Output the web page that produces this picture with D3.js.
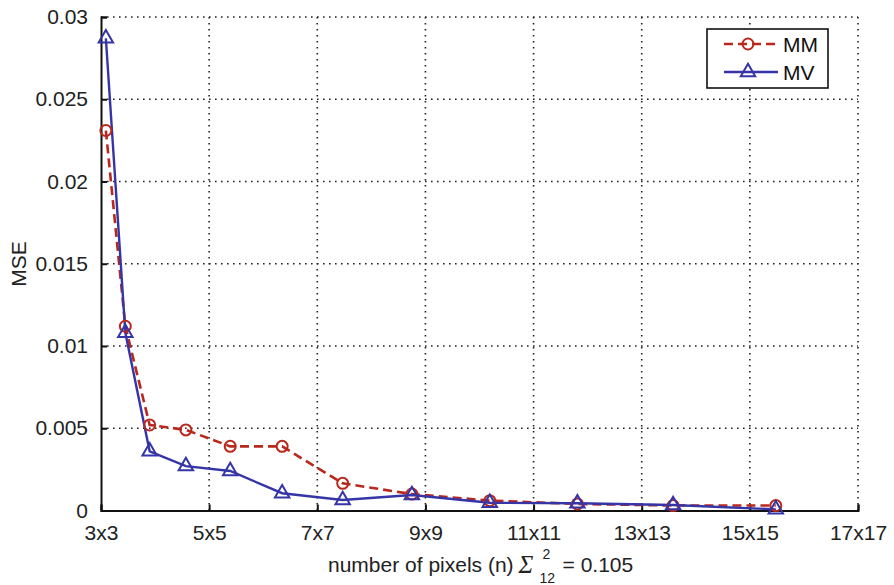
<!DOCTYPE html>
<html>
<head>
<meta charset="utf-8">
<script src="https://cdn.jsdelivr.net/npm/d3@7"></script>
<style>
  body { margin: 0; background: #fff; }
  text { font-family: "Liberation Sans", Arial, sans-serif; }
</style>
</head>
<body>
<svg id="chart" width="894" height="585"></svg>
<script>
// window sizes (n) where each point was measured, in tick units
const windowSizes = [3.09, 3.45, 3.9, 4.57, 5.39, 6.35, 7.47, 8.75, 10.19, 11.81, 13.58, 15.48];
const mmValues = [0.0231, 0.0112, 0.0052, 0.0049, 0.0039, 0.0039, 0.00165, 0.001, 0.0006, 0.0004, 0.0003, 0.0003];
const mvValues = [0.0287, 0.0108, 0.0036, 0.0027, 0.0024, 0.00105, 0.00064, 0.00094, 0.00047, 0.00044, 0.00033, 0.00007];
const xTicks = [3, 5, 7, 9, 11, 13, 15, 17];
const xTickLabels = ['3x3', '5x5', '7x7', '9x9', '11x11', '13x13', '15x15', '17x17'];
const yTicks = [0, 0.005, 0.01, 0.015, 0.02, 0.025, 0.03];

const margin = { left: 101, right: 36, top: 17, bottom: 74.5 };
const width = 894 - margin.left - margin.right;
const height = 585 - margin.top - margin.bottom;
const fontSize = '21px';

const svg = d3.select('#chart');
const g = svg.append('g').attr('transform', `translate(${margin.left},${margin.top})`);

const x = d3.scaleLinear().domain([3, 17]).range([0, width]);
const y = d3.scaleLinear().domain([0, 0.03]).range([height, 0]);

// grid
const grid = g.append('g').attr('class', 'grid');
grid.selectAll('.vgrid')
  .data(xTicks.slice(1))
  .join('line')
  .attr('x1', d => x(d)).attr('x2', d => x(d))
  .attr('y1', 0).attr('y2', height)
  .attr('stroke', '#222').attr('stroke-width', 1.6)
  .attr('stroke-dasharray', '1.6,4.4');
grid.selectAll('.hgrid')
  .data(yTicks.slice(1))
  .join('line')
  .attr('x1', 0).attr('x2', width)
  .attr('y1', d => y(d)).attr('y2', d => y(d))
  .attr('stroke', '#222').attr('stroke-width', 1.6)
  .attr('stroke-dasharray', '1.6,4.4');

// axes
const xAxis = d3.axisBottom(x).tickValues(xTicks)
  .tickFormat((d, i) => xTickLabels[i]).tickSize(-6).tickPadding(15);
const yAxis = d3.axisLeft(y).tickValues(yTicks)
  .tickFormat(d => d === 0 ? '0' : String(+d.toFixed(3))).tickSize(-6).tickPadding(13);

const gx = g.append('g').attr('transform', `translate(0,${height})`).call(xAxis);
const gy = g.append('g').call(yAxis);
[gx, gy].forEach(a => {
  a.select('.domain').attr('stroke', '#111').attr('stroke-width', 2);
  a.selectAll('.tick line').attr('stroke', '#111').attr('stroke-width', 2);
  a.selectAll('.tick text').attr('fill', '#222')
    .style('font-family', '"Liberation Sans", Arial, sans-serif')
    .style('font-size', fontSize);
});

// series
const mmData = windowSizes.map((n, i) => ({ n, v: mmValues[i] }));
const mvData = windowSizes.map((n, i) => ({ n, v: mvValues[i] }));
const line = d3.line().x(d => x(d.n)).y(d => y(d.v));

const mmColor = '#b8281c';
const mvColor = '#3535a8';

g.append('path').datum(mmData)
  .attr('d', line).attr('fill', 'none')
  .attr('stroke', mmColor).attr('stroke-width', 2.6)
  .attr('stroke-dasharray', '9,5');
g.append('path').datum(mvData)
  .attr('d', line).attr('fill', 'none')
  .attr('stroke', mvColor).attr('stroke-width', 2.4);

g.selectAll('.mm-pt').data(mmData).join('circle')
  .attr('cx', d => x(d.n)).attr('cy', d => y(d.v)).attr('r', 5.5)
  .attr('fill', 'none').attr('stroke', mmColor).attr('stroke-width', 2);

const tri = d3.symbol().type(d3.symbolTriangle).size(90);
g.selectAll('.mv-pt').data(mvData).join('path')
  .attr('d', tri)
  .attr('transform', d => `translate(${x(d.n)},${y(d.v)})`)
  .attr('fill', 'none').attr('stroke', mvColor).attr('stroke-width', 2);

// legend
const lg = svg.append('g').attr('transform', 'translate(707,29)');
lg.append('rect').attr('width', 121).attr('height', 59)
  .attr('fill', '#fff').attr('stroke', '#111').attr('stroke-width', 1.6);
const legendItems = [
  { name: 'MM', color: mmColor, dash: '9,5', mark: 'circle' },
  { name: 'MV', color: mvColor, dash: null, mark: 'tri' }
];
legendItems.forEach((it, i) => {
  const yy = 15 + i * 28;
  lg.append('line').attr('x1', 17).attr('x2', 71).attr('y1', yy).attr('y2', yy)
    .attr('stroke', it.color).attr('stroke-width', 2.4)
    .attr('stroke-dasharray', it.dash);
  if (it.mark === 'circle') {
    lg.append('circle').attr('cx', 41).attr('cy', yy).attr('r', 5.5)
      .attr('fill', 'none').attr('stroke', it.color).attr('stroke-width', 2);
  } else {
    lg.append('path').attr('d', tri).attr('transform', `translate(41,${yy})`)
      .attr('fill', 'none').attr('stroke', it.color).attr('stroke-width', 2);
  }
  lg.append('text').attr('x', 76).attr('y', yy + 7.5).text(it.name)
    .attr('fill', '#111').style('font-size', fontSize);
});

// axis titles
svg.append('text')
  .attr('transform', 'translate(26,264) rotate(-90)')
  .attr('text-anchor', 'middle').attr('fill', '#222')
  .style('font-size', fontSize).text('MSE');

const xl = svg.append('g');
const main = xl.append('text').attr('x', 328).attr('y', 572)
  .attr('fill', '#222').style('font-size', fontSize).text('number of pixels (n)');
const sx = 328 + main.node().getComputedTextLength() + 5;
xl.append('text').attr('x', sx).attr('y', 573)
  .attr('fill', '#222').style('font-family', '"Liberation Serif", serif')
  .style('font-style', 'italic').style('font-size', '25px').text('Σ');
xl.append('text').attr('x', sx + 24).attr('y', 559)
  .attr('fill', '#222').style('font-size', '14px').text('2');
xl.append('text').attr('x', sx + 21).attr('y', 583)
  .attr('fill', '#222').style('font-size', '14px').text('12');
xl.append('text').attr('x', sx + 44).attr('y', 572)
  .attr('fill', '#222').style('font-size', fontSize).text('= 0.105');
</script>
</body>
</html>
